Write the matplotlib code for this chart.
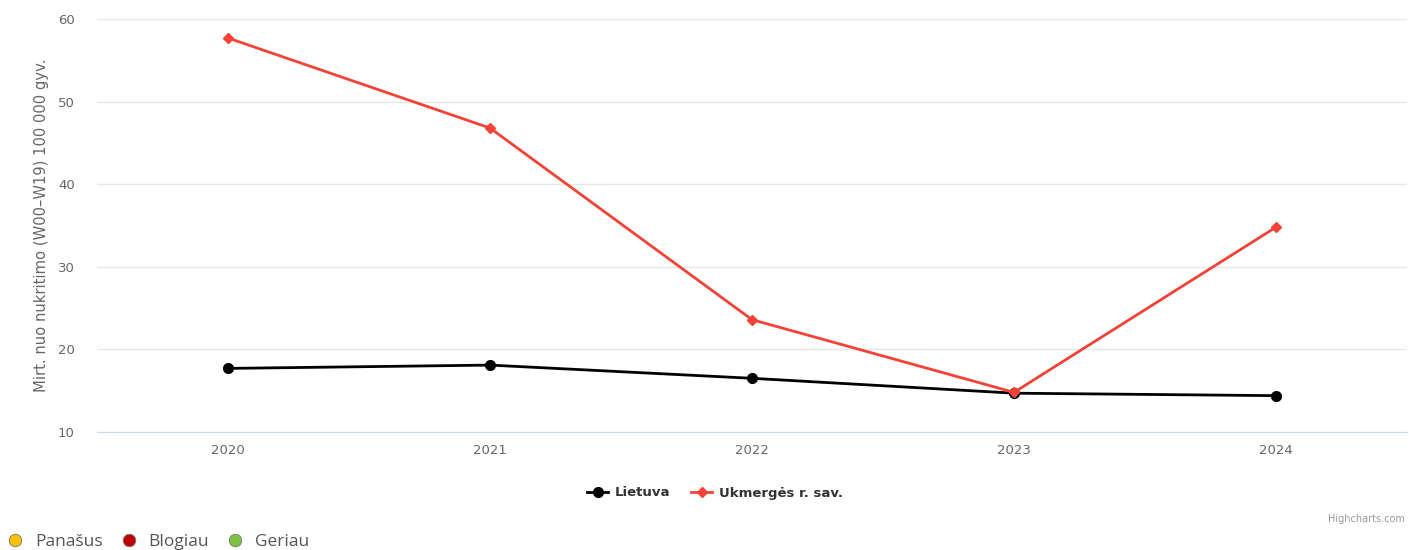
import matplotlib.pyplot as plt
from matplotlib.lines import Line2D

metai = ['2020', '2021', '2022', '2023', '2024']
lietuva = [17.7, 18.1, 16.5, 14.7, 14.4]
ukmerge = [57.7, 46.8, 23.6, 14.8, 34.8]
y_ticks = [10, 20, 30, 40, 50, 60]

plt.rcParams['font.family'] = ['DejaVu Sans']

fig = plt.figure(figsize=(14.09, 5.5), dpi=100)
ax = fig.add_axes([97 / 1409, 1 - 432 / 550, 1310 / 1409, 413 / 550])

x = range(len(metai))
ax.plot(x, lietuva, color='black', lw=2, marker='o', ms=7, label='Lietuva', zorder=3)
ax.plot(x, ukmerge, color='#f44336', lw=2, marker='D', ms=5, label='Ukmergės r. sav.', zorder=4)

ax.set_xlim(-0.5, len(metai) - 0.5)
ax.set_ylim(10, 60)
ax.set_yticks(y_ticks)
ax.set_xticks(list(x))
ax.set_xticklabels(metai)
ax.grid(axis='y', color='#e6e6e6', lw=1)
ax.set_axisbelow(True)
for s in ['top', 'right', 'left']:
    ax.spines[s].set_visible(False)
ax.spines['bottom'].set_color('#ccd6eb')
ax.tick_params(axis='both', length=0, colors='#666666', labelsize=9.5)
ax.tick_params(axis='y', pad=16)
ax.tick_params(axis='x', pad=9)
ax.set_ylabel('Mirt. nuo nukritimo (W00–W19) 100 000 gyv.', color='#666666', fontsize=10.6)
ax.yaxis.set_label_coords(-0.037, 0.5)

leg = fig.legend(loc='center', bbox_to_anchor=(715 / 1409, 1 - 493 / 550), ncol=2, frameon=False,
                 prop={'weight': 'bold', 'size': 9.5}, handlelength=1.6, columnspacing=1.6, handletextpad=0.5)
for t in leg.get_texts():
    t.set_color('#333333')

fig.text(1405 / 1409, 1 - 519 / 550, 'Highcharts.com', ha='right', va='center', fontsize=7, color='#999999')

# apatine legenda
spalvos = ['#FFC000', '#C00000', '#7DC242']
pavad = ['Panašus', 'Blogiau', 'Geriau']
handles = [Line2D([], [], ls='', marker='o', ms=9, markerfacecolor=c, markeredgecolor='#777777', markeredgewidth=0.6)
           for c in spalvos]
leg2 = fig.legend(handles, pavad, loc='center left', bbox_to_anchor=(3 / 1409, 1 - 542 / 550), ncol=3, frameon=False,
                  prop={'family': 'Open Sans', 'size': 12.5}, handletextpad=0.45, columnspacing=0.8,
                  handlelength=1.4, borderpad=0, borderaxespad=0.0)
for t in leg2.get_texts():
    t.set_color('#555555')

fig.savefig('out.png', dpi=100)
